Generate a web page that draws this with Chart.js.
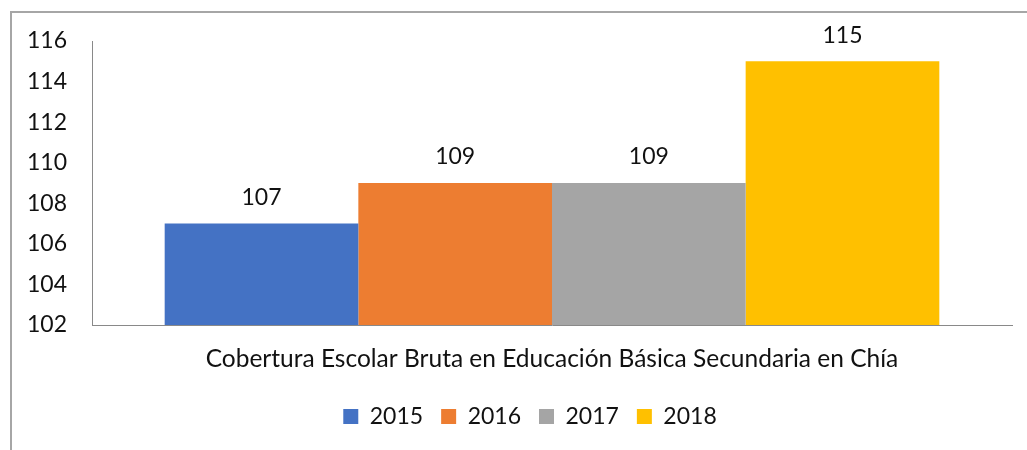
<!DOCTYPE html>
<html lang="es">
<head>
    <meta charset="UTF-8">
    <title>Cobertura Escolar Bruta</title>
    <style>
        body {
            margin: 0;
            padding: 0;
            background: #fff;
            font-family: 'Lato', sans-serif;
        }

        #wrap {
            position: relative;
            width: 1027px;
            height: 450px;
            overflow: hidden;
        }

        /* marco gris del recuadro */
        #frame {
            position: absolute;
            left: 10px;
            top: 11px;
            width: 1100px;
            height: 500px;
            border-left: 2px solid #a6a6a6;
            border-top: 2px solid #a6a6a6;
        }

        #chart {
            position: absolute;
            left: 0;
            top: 0;
            width: 1027px;
            height: 450px;
        }
    </style>
</head>
<body>
    <div id="wrap">
        <div id="frame"></div>
        <div id="chart">
            <canvas id="myChart"></canvas>
        </div>
    </div>

    <script src="https://cdn.jsdelivr.net/npm/chart.js"></script>
    <script>
const categories = ['Cobertura Escolar Bruta en Educación Básica Secundaria en Chía'];
const years = ['2015', '2016', '2017', '2018'];
const values2015 = [107];
const values2016 = [109];
const values2017 = [109];
const values2018 = [115];
const colors = ['#4472C4', '#ED7D31', '#A5A5A5', '#FFC000'];
const yMin = 102;
const yMax = 116;
const yStep = 2;

const seriesValues = [values2015, values2016, values2017, values2018];
const fontSize = 23;

// dibuja el valor encima de cada barra
const valueLabels = {
    id: 'valueLabels',
    afterDatasetsDraw(chart) {
        const ctx = chart.ctx;
        ctx.save();
        ctx.font = fontSize + 'px Lato';
        ctx.fillStyle = '#111';
        ctx.textAlign = 'center';
        ctx.textBaseline = 'middle';
        chart.data.datasets.forEach((ds, i) => {
            chart.getDatasetMeta(i).data.forEach((bar, j) => {
                ctx.fillText(ds.data[j], bar.x, bar.y - 26);
            });
        });
        ctx.restore();
    }
};

// la leyenda va un poco a la derecha, como en el original
const legendShift = {
    id: 'legendShift',
    afterLayout(chart) {
        if (chart.legend) {
            chart.legend.left += 48;
        }
    }
};

const ctx = document.getElementById('myChart').getContext('2d');
const myChart = new Chart(ctx, {
    type: 'bar',
    data: {
        labels: categories,
        datasets: years.map((y, i) => ({
            label: y,
            data: seriesValues[i],
            backgroundColor: colors[i],
            borderWidth: 0,
            categoryPercentage: 0.842,
            barPercentage: 1
        }))
    },
    options: {
        responsive: true,
        maintainAspectRatio: false,
        animation: false,
        layout: {
            padding: { top: 41, right: 15, left: 0, bottom: 12 }
        },
        plugins: {
            legend: {
                position: 'bottom',
                labels: {
                    boxWidth: 15,
                    boxHeight: 15,
                    padding: 18,
                    color: '#111',
                    font: { family: 'Lato', size: fontSize }
                }
            },
            tooltip: { enabled: false }
        },
        scales: {
            x: {
                grid: { drawOnChartArea: false, drawTicks: false },
                border: { color: '#898989', width: 1 },
                ticks: {
                    padding: 19,
                    color: '#111',
                    font: { family: 'Lato', size: 24.5 }
                },
                afterFit(scale) {
                    scale.height = 62;
                }
            },
            y: {
                min: yMin,
                max: yMax,
                grid: { drawOnChartArea: false, drawTicks: false },
                border: { color: '#898989', width: 1 },
                ticks: {
                    stepSize: yStep,
                    padding: 25,
                    color: '#111',
                    font: { family: 'Lato', size: fontSize }
                },
                afterFit(scale) {
                    scale.width = 92;
                }
            }
        }
    },
    plugins: [valueLabels, legendShift]
});
    </script>
</body>
</html>
